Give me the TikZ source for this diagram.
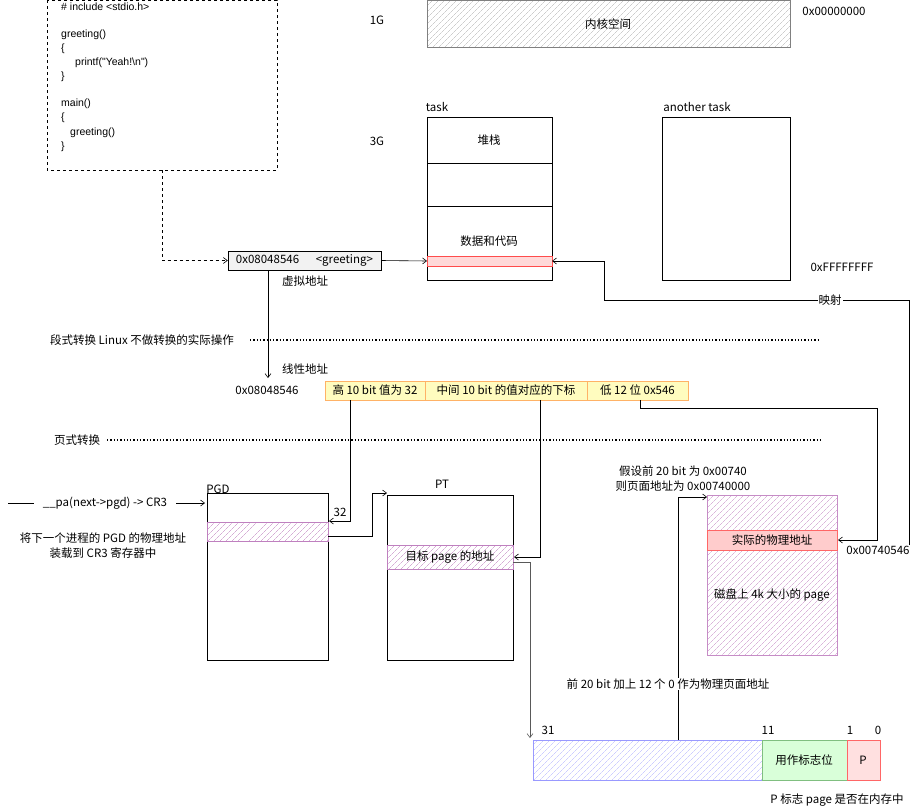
\documentclass[tikz,border=0pt]{standalone}
\usepackage{fontspec}
\setmainfont{Noto Sans CJK SC}
\newfontfamily\lat{Liberation Sans}
\usetikzlibrary{patterns,patterns.meta,arrows.meta}
\begin{document}
\begin{tikzpicture}[x=1pt,y=-1pt,font=\fontsize{11.5}{13}\selectfont,
  box/.style={draw,line width=0.8pt},
  hb/.style={draw=#1,pattern={Lines[angle=45,distance=4pt,line width=0.3pt]},pattern color=#1},
  arr/.style={-{Straight Barb[length=4pt,width=6pt]},line width=0.6pt},
  t/.style={inner sep=0pt,anchor=west,font=\lat\fontsize{10.5}{12}\selectfont}]
\useasboundingbox (0,0) rectangle (921,811);
% code box
\draw[dashed] (47,0) rectangle (277,170);
\node[t] at (61,7) {\# include <stdio.h>};
\node[t] at (61,35) {greeting()};
\node[t] at (61,49) {\{};
\node[t] at (75,63) {printf("Yeah!\textbackslash n")};
\node[t] at (61,77) {\}};
\node[t] at (61,104) {main()};
\node[t] at (61,118) {\{};
\node[t] at (70,133) {greeting()};
\node[t] at (61,147) {\}};
\coordinate (cb) at (162,170);
% virtual address box
\node[draw,fill=gray!10,minimum width=153pt,minimum height=19pt,inner sep=0pt] (va) at (304.5,260.5) {0x08048546\quad\ \ <greeting>};
\draw[arr,dashed] (cb) |- (va.west);
\node at (305,281) {虚拟地址};
% kernel
\draw[hb=gray!60,draw=gray] (427,0) rectangle (790,47);
\node (ker) at (608,24) {内核空间};
\node at (377,20) {1G};
\node at (834,11) {0x00000000};
% task
\node at (437,107) {task};
\node at (377,141) {3G};
\draw[box] (427,117) rectangle (552,280);
\draw[box] (427,163) -- (552,163);
\draw[box] (427,206) -- (552,206);
\node (stk) at (489,140) {堆栈};
\node (dat) at (489,241) {数据和代码};
\draw[red!70,fill=red!15] (427,256) rectangle (552,266);
\coordinate (bar) at (427,261);
\coordinate (barR) at (552,261);
\draw[arr] (va.east) -- (bar);
\node at (697,107) {another task};
\draw[box] (662,117) rectangle (790,280);
\node at (842,267) {0xFFFFFFFF};
% mapping line
\coordinate (m1) at (909,545);
\draw[arr] (m1) |- (604,300) |- (barR);
\node[fill=white,inner sep=1pt] at (830,300) {映射};
% dotted lines
\node at (142,340) {段式转换 Linux 不做转换的实际操作};
\draw[dotted,line width=1.3pt] (250,340) -- (820,340);
\node at (77,440) {页式转换};
\draw[dotted,line width=1.3pt] (107,440) -- (820,440);
% linear address
\node at (305,369) {线性地址};
\node at (267,390) {0x08048546};
\tikzset{yb/.style={draw=orange!60,fill=yellow!25,minimum height=19pt,inner sep=0pt}}
\node[yb,minimum width=100pt] (y1) at (375,390.5) {高 10 bit 值为 32};
\node[yb,minimum width=162pt] (y2) at (506,390.5) {中间 10 bit 的值对应的下标};
\node[yb,minimum width=101pt] (y3) at (637.5,390.5) {低 12 位 0x546};
\draw[arr] (va.south -| 268,0) -- (268,378);
% PGD
\node at (218,489) {PGD};
\draw[box] (207,493) rectangle (328,660);
\draw[hb=violet!50] (207,522) rectangle (328,541);
\coordinate (pgdrow) at (328,536);
\draw (8,503) -- (34,503);
\node (pa) at (105,503) {\_\_pa(next->pgd) -> CR3};
\draw[arr] (176,503) -- (205,503);
\node at (103,538) {将下一个进程的 PGD 的物理地址};
\node at (103,553) {装载到 CR3 寄存器中};
\draw[arr] (350,400) |- (329,521);
\node at (340,512) {32};
% PT
\node at (442,484) {PT};
\draw[box] (387,495) rectangle (513,660);
\draw[hb=violet!50] (387,545) rectangle (513,569);
\node (ptrow) at (450,557) {目标 page 的地址};
\draw[arr] (pgdrow) -- (372,536) |- (387,493);
\draw[arr] (540,400) |- (514,557);
% bits
\draw[hb=blue!30,draw=blue!40] (533,740) rectangle (762,780);
\draw[draw=green!50!black!50,fill=green!15] (762,740) rectangle (847,780);
\node at (804,760) {用作标志位};
\draw[draw=red!60,fill=red!12,line width=0.8pt] (847,740) rectangle (880,780);
\node at (863,760) {P};
\node at (548,730) {31};
\node at (768,730) {11};
\node at (850,730) {1};
\node at (878,730) {0};
\node at (837,800) {P 标志 page 是否在内存中};
\draw[arr,gray!70!black] (513,562) -- (530,562) -- (530,738);
% page
\draw[hb=violet!45,draw=violet!45,line width=0.8pt] (707,495) rectangle (837,655);
\draw[draw=red!60,fill=red!20] (707,530) rectangle (837,550);
\node at (772,540) {实际的物理地址};
\node at (772,595) {磁盘上 4k 大小的 page};
\node at (878,550) {0x00740546};
\node at (683,471) {假设前 20 bit 为 0x00740};
\node at (683,486) {则页面地址为 0x00740000};
\draw[arr] (678,740) |- (707,497);
\node[fill=white,inner sep=1pt] at (668,684) {前 20 bit 加上 12 个 0 作为物理页面地址};
\draw[arr] (640,400) |- (877,408) |- (838,540);
\end{tikzpicture}
\end{document}
